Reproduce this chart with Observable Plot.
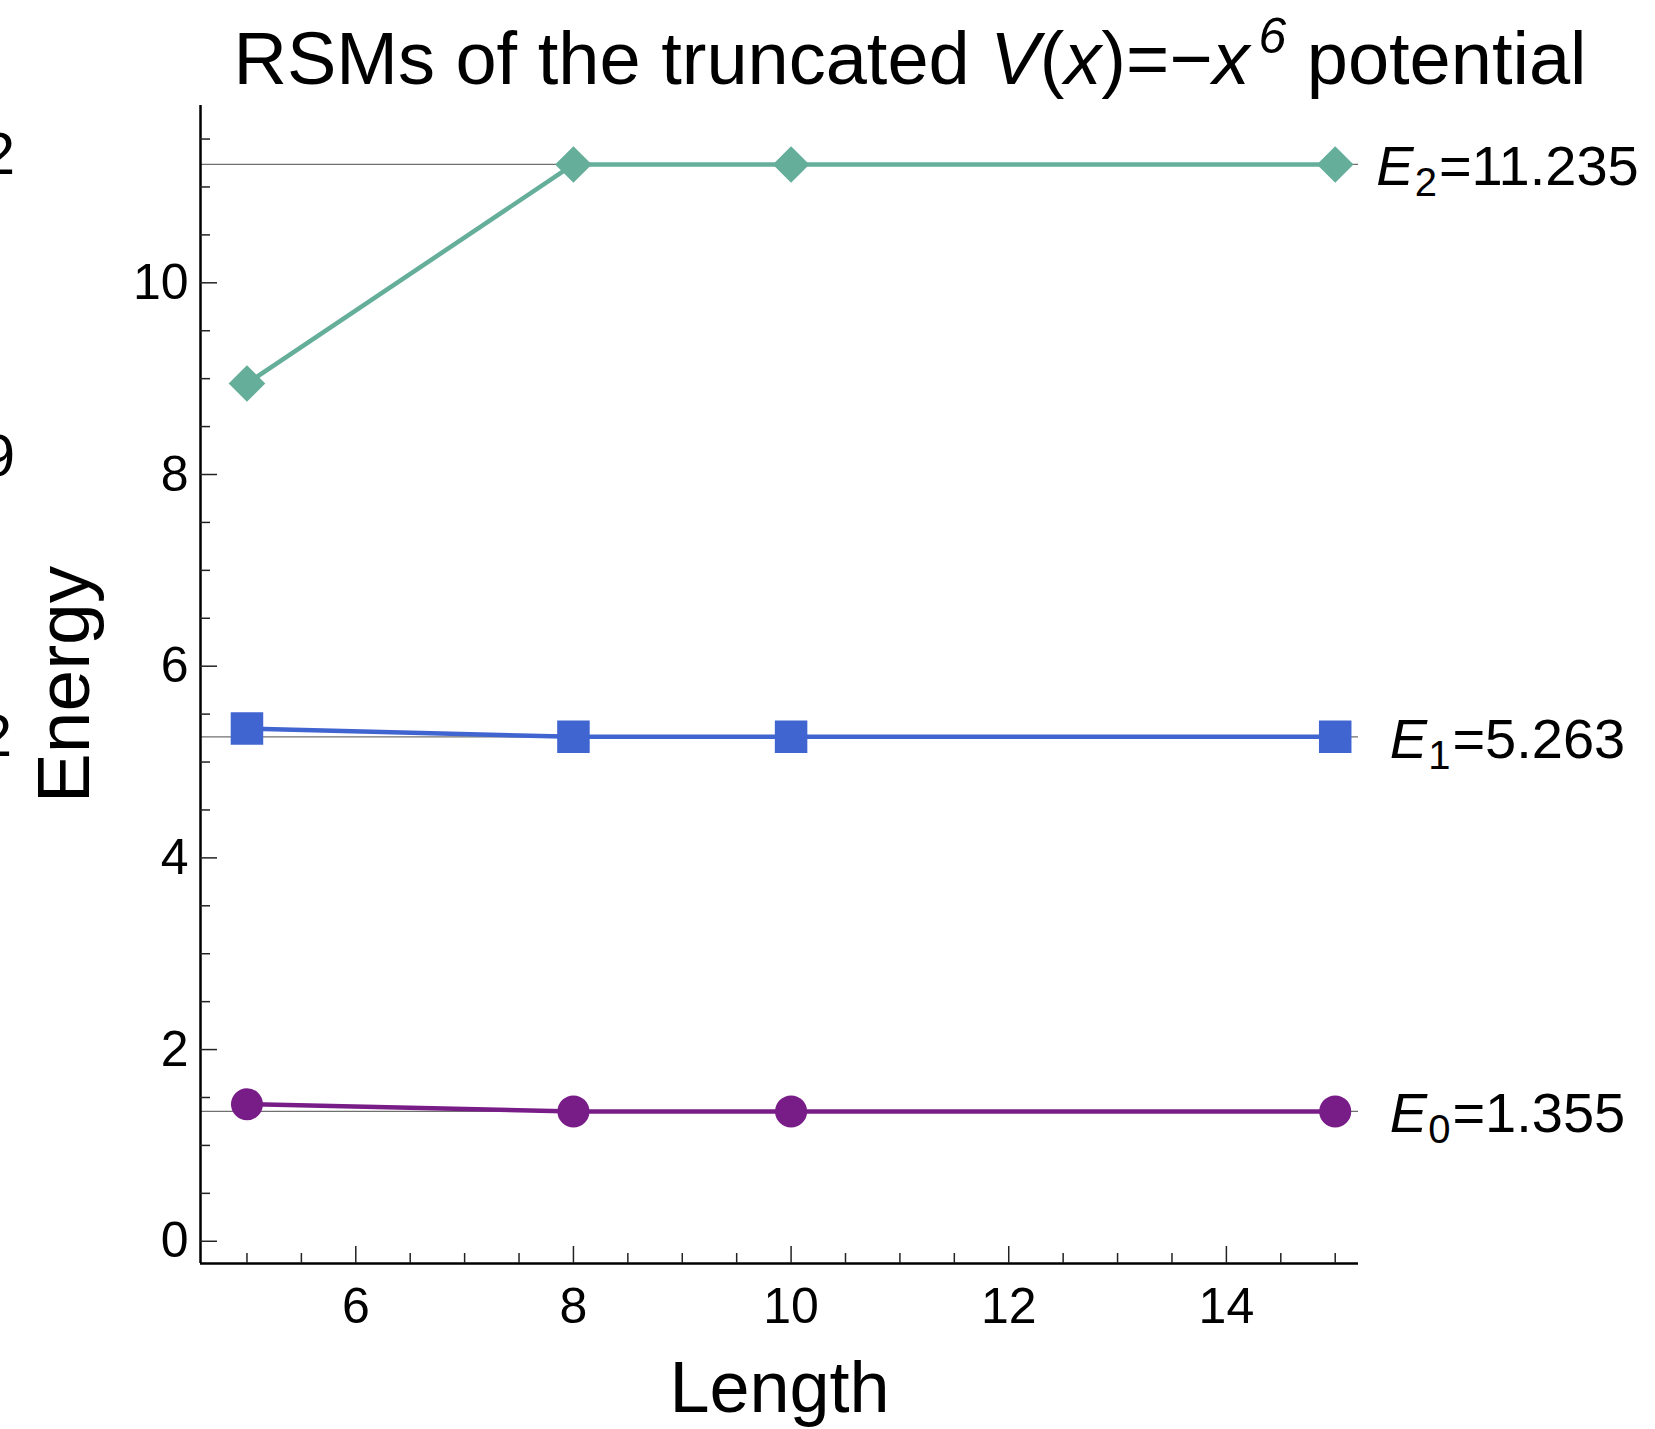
<!DOCTYPE html>
<html><head><meta charset="utf-8">
<script src="https://cdn.jsdelivr.net/npm/d3@7"></script>
<script src="https://cdn.jsdelivr.net/npm/@observablehq/plot@0.6"></script>
<style>
body{margin:0;background:#fff;}
#wrap{position:relative;width:1655px;height:1429px;overflow:hidden;font-family:"Liberation Sans",Arial,sans-serif;color:#000;background:#fff;}
#chart{position:absolute;left:0;top:0;}
#title{position:absolute;top:22px;left:910px;transform:translateX(-50%);font-size:74px;line-height:74px;white-space:nowrap;}
#title .sup{font-size:50px;position:relative;top:-31px;font-style:italic;margin-left:9px;}
.frag{position:absolute;left:-100px;width:115px;text-align:right;font-size:60px;line-height:60px;}
</style></head><body>
<div id="wrap">
  <div id="chart"></div>
  <div id="title">RSMs of the truncated <i>V</i>(<i>x</i>)=−<i>x</i><span class="sup">6</span> potential</div>
  <div class="frag" style="top:124px">2</div>
  <div class="frag" style="top:426px">9</div>
  <div class="frag" style="top:706px;left:-103px">2</div>
</div>
<script>
// ---- data ----
const lengths = [5, 8, 10, 15];
const e0 = [1.43, 1.355, 1.355, 1.355];
const e1 = [5.35, 5.263, 5.263, 5.263];
const e2 = [8.95, 11.235, 11.235, 11.235];
const levels = [1.355, 5.263, 11.235];
const levelIdx = ["0", "1", "2"];
const seriesNames = ["E0", "E1", "E2"];
const seriesColors = ["#781d87", "#4064d0", "#64ae9a"];
const seriesSymbols = ["circle", "square2", "diamond2"];
const seriesR = [16, 20.7, 16.5];
const xMajor = [6, 8, 10, 12, 14];
const yMajor = [0, 2, 4, 6, 8, 10];
const xMinor = d3.range(5, 15.001, 0.5).filter(v => !xMajor.includes(v));
const yMinor = d3.range(0.5, 11.501, 0.5).filter(v => !yMajor.includes(v));
const xDomain = [4.573, 15.214];
const yDomain = [-0.232, 11.85];

const allSeries = [e0, e1, e2];
const rows = [];
allSeries.forEach((vals, s) => lengths.forEach((L, i) => rows.push({L, E: vals[i], s: seriesNames[s]})));

const font = "Liberation Sans, Arial, sans-serif";
const tickStyle = {text: null, label: null, stroke: "#222", strokeWidth: 1.5};
const marks = [
  Plot.ruleY(levels, {stroke: "#707070", strokeWidth: 1.3}),
  Plot.line(rows, {x: "L", y: "E", z: "s", stroke: "s", strokeWidth: 4.5}),
];
seriesNames.forEach((name, s) => {
  marks.push(Plot.dot(rows.filter(d => d.s === name), {x: "L", y: "E", symbol: () => seriesSymbols[s], fill: seriesColors[s], r: seriesR[s], stroke: "none"}));
});
marks.push(
  // axis lines
  Plot.ruleX([xDomain[0]], {stroke: "#000", strokeWidth: 2.5}),
  Plot.ruleY([yDomain[0]], {stroke: "#000", strokeWidth: 2.5}),
  // ticks (inward)
  Plot.axisX(xMajor, {tickSize: -17, ...tickStyle}),
  Plot.axisX(xMinor, {tickSize: -10, ...tickStyle}),
  Plot.axisY(yMajor, {tickSize: -17, ...tickStyle}),
  Plot.axisY(yMinor, {tickSize: -10, ...tickStyle}),
  // tick labels
  Plot.axisX(xMajor, {tickSize: 0, tickPadding: 24, fontSize: 50, label: null, tickFormat: d3.format("d")}),
  Plot.axisY(yMajor, {tickSize: 0, tickPadding: 12, fontSize: 50, label: null, tickFormat: d3.format("d")}),
  // axis labels
  Plot.text(["Length"], {frameAnchor: "bottom", textAnchor: "middle", lineAnchor: "bottom", dy: 148, fontSize: 72, text: d => d}),
  Plot.text(["Energy"], {frameAnchor: "left", textAnchor: "middle", lineAnchor: "bottom", rotate: -90, dx: -112, fontSize: 75, text: d => d}),
  // level labels
  Plot.text(levels, {y: d => d, frameAnchor: "right", dx: 149, dy: 3, textAnchor: "middle", fontSize: 56,
    text: (d, i) => "E" + levelIdx[i] + "=" + d3.format(".3f")(d), className: "lvl"})
);

const chart = Plot.plot({
  width: 1655, height: 1429,
  marginLeft: 200, marginRight: 297, marginTop: 105, marginBottom: 166,
  x: {domain: xDomain, axis: null},
  y: {domain: yDomain, axis: null},
  color: {domain: seriesNames, range: seriesColors},
  style: {fontFamily: font, background: "white", overflow: "visible", color: "#000"},
  marks
});
document.getElementById("chart").appendChild(chart);

// rich text for level labels: italic E with subscript
d3.select(chart).selectAll("g.lvl text").each(function () {
  const t = this.textContent;
  const m = t.match(/^E(\d)(=.*)$/);
  if (!m) return;
  const el = d3.select(this);
  el.text(null);
  el.append("tspan").attr("font-style", "italic").text("E");
  el.append("tspan").attr("font-size", 40).attr("dy", 11).attr("dx", 1).text(m[1]);
  el.append("tspan").attr("dy", -11).attr("dx", 2).text(m[2]);
});
</script>
</body></html>
